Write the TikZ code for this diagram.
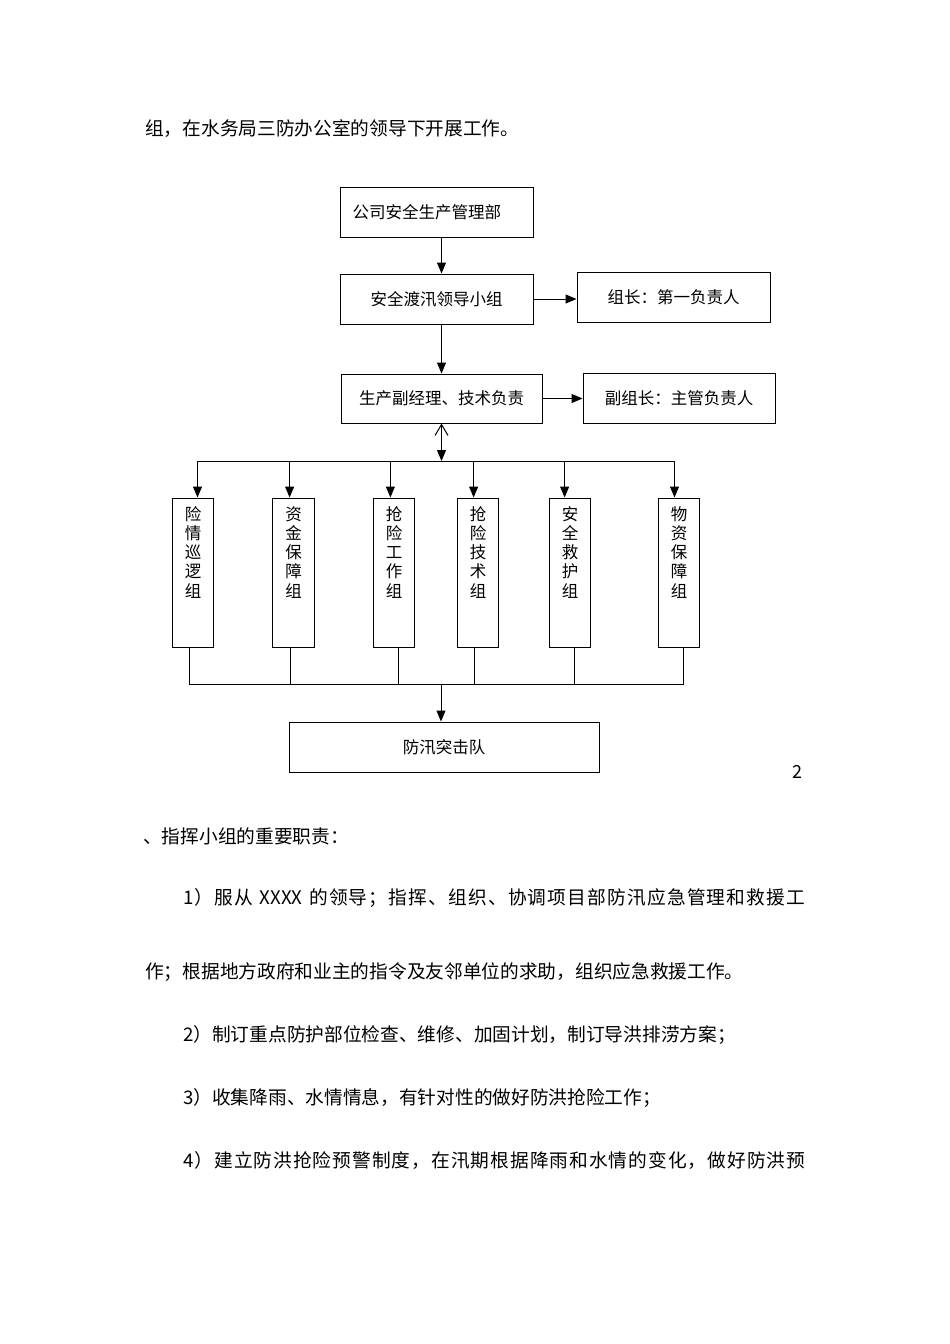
\documentclass[tikz,border=0pt]{standalone}
\usepackage{fontspec}
\setmainfont{Noto Sans CJK SC}
\usetikzlibrary{arrows.meta}
\newcommand\boxfont{\fontsize{16.5}{19.25}\selectfont}
\newcommand\bodyfont{\fontsize{18.7}{20}\selectfont}
\ExplSyntaxOn
\NewDocumentCommand\spreadline{mm}{\makebox[#1][l]{\tl_map_inline:nn{#2}{##1\hfill}\unskip}}
\ExplSyntaxOff
\begin{document}
\begin{tikzpicture}[x=1pt,y=-1pt,
  box/.style={draw, line width=1pt, inner sep=0pt, font=\boxfont},
  vbox/.style={box, minimum width=41.5pt, minimum height=149pt},
  vtext/.style={anchor=north, inner sep=0pt, align=center, font=\boxfont},
  line/.style={line width=1pt},
  arr/.style={line, -{Triangle[length=11pt,width=9pt]}},
  body/.style={anchor=west, inner sep=0pt, font=\bodyfont}]
\useasboundingbox (0,0) rectangle (950,1344);

% top text
\node[body] (t0) at (145,129) {组，在水务局三防办公室的领导下开展工作。};

% upper boxes
\node[box, minimum height=50pt, text width=167.6pt, align=left, inner xsep=12.7pt] (b1) at (436.5,212) {公司安全生产管理部};
\node[box, minimum width=193pt, minimum height=50pt] (b2) at (436.5,299) {安全渡汛领导小组};
\node[box, minimum width=193pt, minimum height=50pt] (b3) at (673.5,297) {组长：第一负责人};
\node[box, minimum width=201pt, minimum height=49pt] (b4) at (441.5,398.5) {生产副经理、技术负责};
\node[box, minimum width=192pt, minimum height=50pt] (b5) at (679,398) {副组长：主管负责人};

% vertical boxes
\node[vbox] (vA) at (193,572.5) {};
\node[vbox] (vB) at (293.5,572.5) {};
\node[vbox] (vC) at (394,572.5) {};
\node[vbox] (vD) at (478,572.5) {};
\node[vbox] (vE) at (570,572.5) {};
\node[vbox] (vF) at (679,572.5) {};
\node[vtext] (tA) at (193,506) {险\\情\\巡\\逻\\组};
\node[vtext] (tB) at (293.5,506) {资\\金\\保\\障\\组};
\node[vtext] (tC) at (394,506) {抢\\险\\工\\作\\组};
\node[vtext] (tD) at (478,506) {抢\\险\\技\\术\\组};
\node[vtext] (tE) at (570,506) {安\\全\\救\\护\\组};
\node[vtext] (tF) at (679,506) {物\\资\\保\\障\\组};

% bottom box
\node[box, minimum width=310pt, minimum height=50pt] (g) at (444,747) {防汛突击队};

% connectors upper
\draw[arr] (b1.south -| b4) -- (b2.north -| b4);
\draw[arr] (b2.east) -- (b2.east -| b3.west);
\draw[arr] (b2.south -| b4) -- (b4.north);
\draw[arr] (b4.east) -- (b4.east -| b5.west);

% distribution bus
\coordinate (bus) at (441.5,461);
\coordinate (pA) at (197.5,461);
\coordinate (pB) at (289.6,461);
\coordinate (pC) at (390.4,461);
\coordinate (pD) at (473.6,461);
\coordinate (pE) at (564.6,461);
\coordinate (pF) at (674.5,461);
\draw[line, {Straight Barb[length=11pt,width=13pt]}-{Triangle[length=11pt,width=9pt]}] (b4.south) -- (bus);
\draw[line] (pA) -- (pF);
\draw[arr] (pA) -- (pA |- vA.north);
\draw[arr] (pB) -- (pB |- vB.north);
\draw[arr] (pC) -- (pC |- vC.north);
\draw[arr] (pD) -- (pD |- vD.north);
\draw[arr] (pE) -- (pE |- vE.north);
\draw[arr] (pF) -- (pF |- vF.north);

% collecting bus
\coordinate (cA) at (189,684);
\coordinate (cB) at (290,684);
\coordinate (cC) at (398.5,684);
\coordinate (cD) at (474,684);
\coordinate (cE) at (574,684);
\coordinate (cF) at (683,684);
\coordinate (cM) at (441,684);
\draw[line] (cA |- vA.south) -- (cA) -- (cF) -- (cF |- vF.south);
\draw[line] (cB |- vB.south) -- (cB);
\draw[line] (cC |- vC.south) -- (cC);
\draw[line] (cD |- vD.south) -- (cD);
\draw[line] (cE |- vE.south) -- (cE);
\draw[arr] (cM) -- (cM |- g.north);

% page number
\node[inner sep=0pt, font=\fontsize{18}{20}\selectfont] (pn) at (797,772) {2};

% body text
\node[body] (t1) at (143,836) {、指挥小组的重要职责：};
\node[body] (t2) at (183,898) {\spreadline{622pt}{1）服从~{XXXX}~的领导；指挥、组织、协调项目部防汛应急管理和救援工}};
\node[body] (t3) at (145,972) {作；根据地方政府和业主的指令及友邻单位的求助，组织应急救援工作。};
\node[body] (t4) at (183,1035) {2）制订重点防护部位检查、维修、加固计划，制订导洪排涝方案；};
\node[body] (t5) at (183,1098) {3）收集降雨、水情情息，有针对性的做好防洪抢险工作；};
\node[body] (t6) at (183,1160) {\spreadline{622pt}{4）建立防洪抢险预警制度，在汛期根据降雨和水情的变化，做好防洪预}};
\end{tikzpicture}
\end{document}
